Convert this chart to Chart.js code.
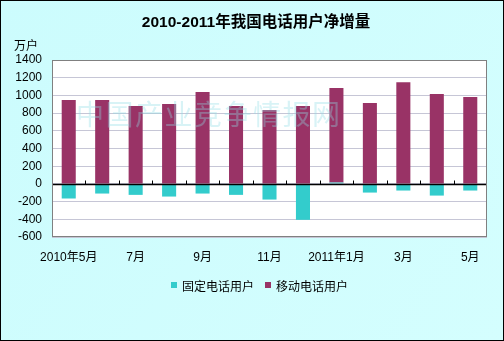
<!DOCTYPE html>
<html><head><meta charset="utf-8">
<script src="https://cdn.jsdelivr.net/npm/chart.js@4/dist/chart.umd.min.js"></script>
<style>html,body{margin:0;padding:0;background:#fff}#w{width:504px;height:341px;position:relative}</style>
</head><body><div id="w"><canvas id="c" width="504" height="341"></canvas></div>
<script>
const categories = ['2010年5月','6月','7月','8月','9月','10月','11月','12月','2011年1月','2月','3月','4月','5月'];
const fixedUsers = [-165,-109,-124,-143,-109,-124,-177,-406,15,-98,-75,-132,-75];
const mobileUsers = [947,947,880,902,1038,880,835,880,1068,914,1150,1015,981];
const yTicks = [1400,1200,1000,800,600,400,200,0,-200,-400,-600];
const titleText = '2010-2011年我国电话用户净增量';
const unitText = '万户';
const watermark = '中国产业竞争情报网';
const FONT = "'Liberation Sans','Noto Sans CJK SC',sans-serif";

const deco = {
  id:'deco',
  beforeDraw(chart){
    const c = chart.ctx, a = chart.chartArea;
    c.save();
    const g = c.createLinearGradient(0,0,504,341);
    g.addColorStop(0,'#ccfcfd'); g.addColorStop(1,'#d4fefe');
    c.fillStyle = g; c.fillRect(0,0,504,341);
    c.strokeStyle = '#000'; c.lineWidth = 1; c.strokeRect(0.5,0.5,503,340);
    c.fillStyle = '#fff'; c.fillRect(a.left,a.top,a.right-a.left,a.bottom-a.top);
    c.fillStyle = '#000'; c.textAlign='center'; c.textBaseline='middle';
    c.font = "bold 15.5px 'Liberation Sans','Noto Sans CJK SC',sans-serif";
    c.fillText(titleText,256,23);
    c.font = "12px 'Noto Sans CJK SC',sans-serif"; c.textAlign='left';
    c.fillText(unitText,14,45);
    // legend
    const items = [['#33cccc','固定电话用户',171],['#993366','移动电话用户',265]];
    items.forEach(([col,t,x])=>{
      c.fillStyle = col; c.fillRect(x,282,6,6);
      c.fillStyle = '#000'; c.fillText(t,x+11,286);
    });
    c.restore();
  },
  afterDatasetsDraw(chart){
    const c = chart.ctx, a = chart.chartArea, xs = chart.scales.x, ys = chart.scales.y;
    c.save();
    const y0 = Math.round(ys.getPixelForValue(0))+0.5;
    c.strokeStyle='#000'; c.lineWidth=1.3;
    c.beginPath(); c.moveTo(a.left,y0); c.lineTo(a.right,y0); c.stroke();
    const n = categories.length, w = (a.right-a.left)/n;
    c.lineWidth=1;
    for(let i=1;i<n;i++){ const x=Math.round(xs.getPixelForValue(i)-w/2)+0.5; c.beginPath(); c.moveTo(x,y0); c.lineTo(x,y0-4); c.stroke(); }
    c.strokeStyle='#808080'; c.strokeRect(a.left+0.5,a.top+0.5,a.right-a.left-1,a.bottom-a.top-1);
    c.globalAlpha=0.35; c.fillStyle='#8fdde6';
    c.font="28px 'Noto Sans CJK SC',sans-serif"; c.textAlign='left'; c.textBaseline='middle';
    let x=76; for(const ch of watermark){ c.fillText(ch,x,114); x+=29.5; }
    c.restore();
  }
};

new Chart(document.getElementById('c'),{
  type:'bar',
  data:{labels:categories,datasets:[
    {label:'固定电话用户',data:fixedUsers,backgroundColor:'#33cccc',stack:'s',barPercentage:0.42,categoryPercentage:1},
    {label:'移动电话用户',data:mobileUsers,backgroundColor:'#993366',stack:'s',barPercentage:0.42,categoryPercentage:1}
  ]},
  options:{
    responsive:false,animation:false,
    layout:{padding:{left:0,right:17,top:60,bottom:74}},
    plugins:{legend:{display:false},title:{display:false},tooltip:{enabled:false}},
    scales:{
      x:{stacked:true,grid:{display:false,drawTicks:false},border:{display:false},
        afterFit(s){s.height=30;},
        ticks:{autoSkip:false,maxRotation:0,padding:13,color:'#000',font:{family:FONT,size:12},
          callback(v,i){return i%2===0?categories[i]:'';}}},
      y:{stacked:true,min:-600,max:1400,
        afterFit(s){s.width=52;},
        afterBuildTicks(s){s.ticks=yTicks.map(v=>({value:v}));},
        grid:{color:'#c6c6d6',drawTicks:false},border:{display:false},
        ticks:{padding:10,color:'#000',font:{family:FONT,size:12},callback(v){return String(v);}}}
    }
  },
  plugins:[deco]
});
</script></body></html>
